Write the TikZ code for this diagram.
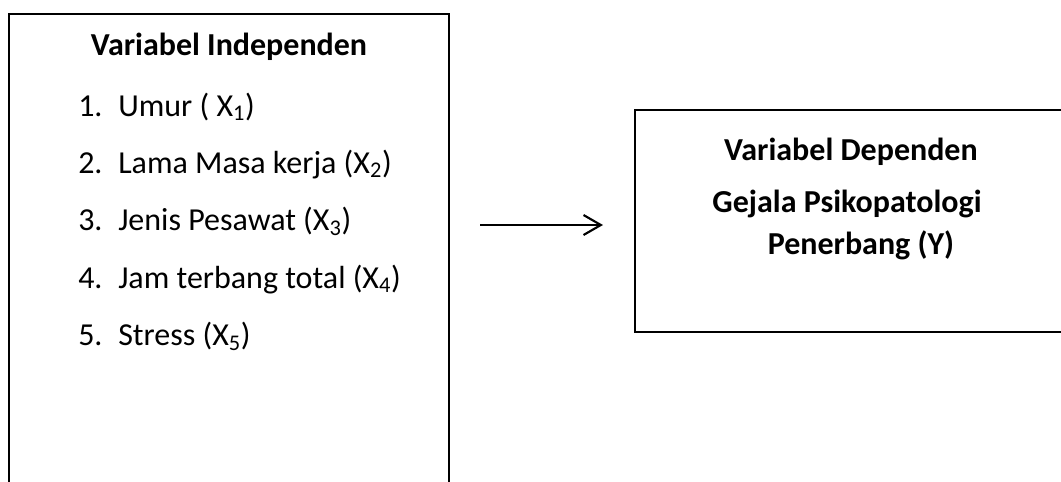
\documentclass[tikz,border=0pt]{standalone}
\usepackage{fontspec}
\setmainfont{Carlito}
\usetikzlibrary{arrows.meta}
\tikzset{
  leftbox/.style={draw=black, line width=1.4pt},
  rightbox/.style={draw=black, line width=1.8pt},
  txt/.style={inner sep=0pt, font=\fontsize{24}{29}\selectfont},
  bold/.style={txt, font=\fontsize{24}{29}\selectfont\bfseries},
  conn/.style={line width=1.6pt, -{Straight Barb[length=13pt,width=15pt,line width=1.6pt]}}
}
\begin{document}
\begin{tikzpicture}[x=0.75pt,y=-0.75pt]
\useasboundingbox (0,0) rectangle (1061,482);
% left box (bottom edge lies outside the picture)
\draw[leftbox] (9,495) -- (9,14) -- (449,14) -- (449,495);
\node[bold, anchor=base] (t1) at (229,55) {Variabel Independen};
\node[txt, anchor=base west] (n1) at (78,116) {1.};
\node[txt, anchor=base west] (i1) at (118,116) {Umur ( X\textsubscript{1})};
\node[txt, anchor=base west] (n2) at (78,173) {2.};
\node[txt, anchor=base west] (i2) at (118,173) {Lama Masa kerja (X\textsubscript{2})};
\node[txt, anchor=base west] (n3) at (78,230.5) {3.};
\node[txt, anchor=base west] (i3) at (118,230.5) {Jenis Pesawat (X\textsubscript{3})};
\node[txt, anchor=base west] (n4) at (78,288) {4.};
\node[txt, anchor=base west] (i4) at (118,288) {Jam terbang total (X\textsubscript{4})};
\node[txt, anchor=base west] (n5) at (78,345.5) {5.};
\node[txt, anchor=base west] (i5) at (118,345.5) {Stress (X\textsubscript{5})};
% right box (right edge lies outside the picture)
\draw[rightbox] (1075,110) -- (635,110) -- (635,332) -- (1075,332);
\node[bold, anchor=base] (d1) at (851,160) {Variabel Dependen};
\node[bold, anchor=base] (d2) at (847,212) {Gejala Psikopatologi};
\node[bold, anchor=base] (d3) at (861,254) {Penerbang (Y)};
% arrow
\coordinate (a1) at (480,225);
\coordinate (a2) at (603,225);
\draw[conn] (a1) -- (a2);
\end{tikzpicture}
\end{document}
